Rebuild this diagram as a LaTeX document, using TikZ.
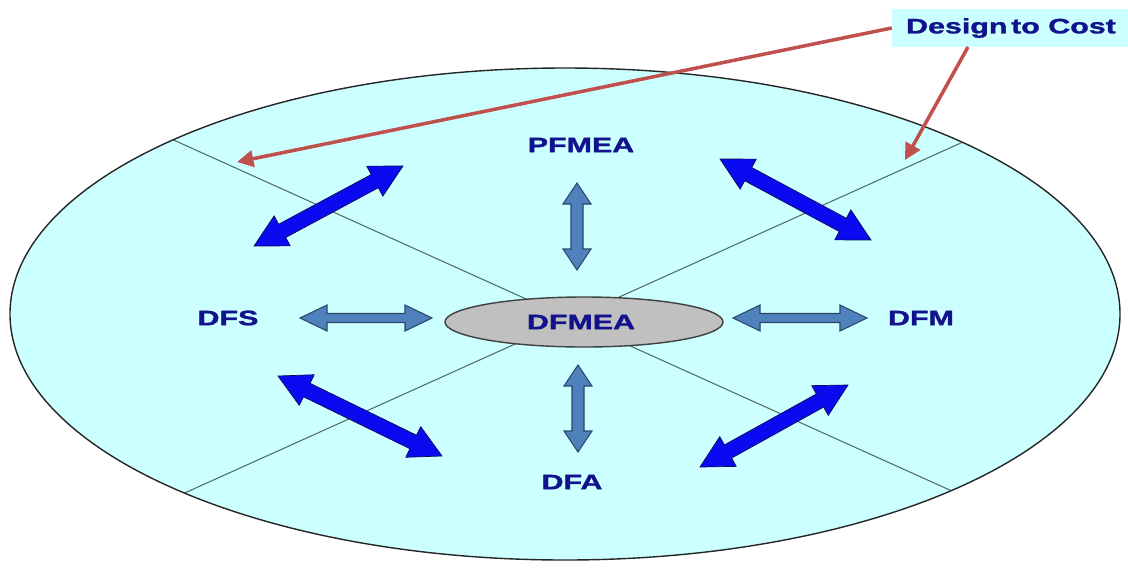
\documentclass[tikz,border=0pt]{standalone}
\usepackage{fontspec}
\setmainfont{Liberation Sans}
\newfontfamily\lblfont[FakeBold=1.2]{Liberation Sans Bold}
\usetikzlibrary{arrows.meta,calc}
\definecolor{bgcyan}{RGB}{204,255,255}
\definecolor{txtblue}{RGB}{18,18,140}
\definecolor{linegray}{RGB}{80,110,100}
\definecolor{arrblue}{RGB}{10,10,240}
\definecolor{arrblueedge}{RGB}{10,10,90}
\definecolor{steel}{RGB}{79,129,189}
\definecolor{steeledge}{RGB}{45,70,105}
\definecolor{redarr}{RGB}{192,80,77}
\definecolor{centergray}{RGB}{192,192,192}
\newcommand{\dblarrow}[8]{%
  \pgfmathsetmacro\dax{#3-#1}%
  \pgfmathsetmacro\day{#2-#4}%
  \pgfmathsetmacro\dang{atan2(\day,\dax)}%
  \pgfmathsetmacro\dlen{veclen(\dax,\day)}%
  \pgfmathsetmacro\dback{\dlen-#7}%
  \begin{scope}[shift={(#1,#2)},rotate=\dang]
    \draw[#8] (0,0) -- (#7,#6) -- (#7,#5) -- (\dback,#5) -- (\dback,#6) -- (\dlen,0)
      -- (\dback,-#6) -- (\dback,-#5) -- (#7,-#5) -- (#7,-#6) -- cycle;
  \end{scope}}
\newcommand{\wide}[1]{\scalebox{1.45}[1]{#1}}
\tikzset{
  lbl/.style={text=txtblue, font=\fontsize{17.9}{20}\lblfont, inner sep=0pt},
  bluearr/.style={fill=arrblue, draw=arrblueedge, line width=0.6pt, line join=miter},
  steelarr/.style={fill=steel, draw=steeledge, line width=0.9pt, line join=miter},
  divline/.style={draw=linegray, line width=0.9pt},
  redline/.style={draw=redarr, line width=3pt, -{Triangle[length=14pt,width=14pt]}},
}
\begin{document}
\begin{tikzpicture}[x=0.03cm,y=-0.03cm]
\useasboundingbox (0,0) rectangle (1128,574);
% outer ellipse
\path[fill=bgcyan] (565,314) ellipse [x radius=555, y radius=246];
\begin{scope}
  \clip (565,314) ellipse [x radius=555, y radius=246];
  \coordinate (ctr) at (570.5,319);
  \coordinate (ul) at (178,142);
  \coordinate (ur) at (963,142);
  \draw[divline] ($(ctr)!1.6!(ul)$) -- ($(ctr)!-1.6!(ul)$);
  \draw[divline] ($(ctr)!1.6!(ur)$) -- ($(ctr)!-1.6!(ur)$);
\end{scope}
\draw[black!85, line width=1.2pt] (565,314) ellipse [x radius=555, y radius=246];
% central ellipse
\path[fill=centergray, draw=black!75, line width=1.2pt] (584,322) ellipse [x radius=139, y radius=25];
\node[lbl] (dfmea) at (581,322) {\wide{DFMEA}};
% labels
\node[lbl] (pfmea) at (581,145) {\wide{PFMEA}};
\node[lbl] (dfs) at (228,318) {\wide{DFS}};
\node[lbl] (dfm) at (921,318) {\wide{DFM}};
\node[lbl] (dfa) at (572,482) {\wide{DFA}};
% steel arrows
\dblarrow{577}{183}{577}{270}{6}{14}{21}{steelarr}
\dblarrow{578}{365}{578}{452}{6}{14}{21}{steelarr}
\dblarrow{300}{318}{432}{318}{4.5}{13}{27}{steelarr}
\dblarrow{733}{318}{867}{318}{4.5}{13}{27}{steelarr}
% blue arrows
\dblarrow{254}{246}{403}{166}{7.5}{17}{32}{bluearr}
\dblarrow{720}{159}{871}{240}{7.5}{17}{32}{bluearr}
\dblarrow{278}{376}{442}{456}{7.5}{17}{32}{bluearr}
\dblarrow{700}{467}{848}{385}{7.5}{17}{32}{bluearr}
% design to cost
\node[lbl, fill=bgcyan, minimum width=7.14cm, minimum height=1.14cm] (dtc) at (1011,28) {\wide{Design\hspace{0.12em}to Cost}};
\coordinate (r1e) at (237,162);
\coordinate (r2s) at (968,47);
\coordinate (r2e) at (905,160);
\draw[redline] (dtc.west) -- (r1e);
\draw[redline] (r2s) -- (r2e);
\end{tikzpicture}
\end{document}
